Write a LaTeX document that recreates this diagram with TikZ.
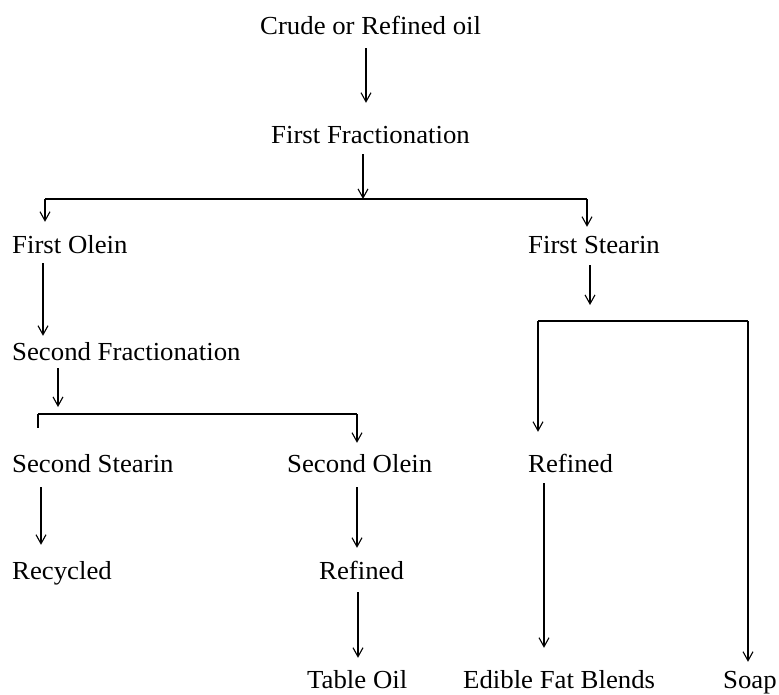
\documentclass[tikz,border=0pt]{standalone}
\usepackage{fontspec}
\setmainfont{Liberation Serif}[FakeStretch=1.03]
\usetikzlibrary{arrows.meta}
\begin{document}
\begin{tikzpicture}[x=1pt,y=-1pt,
  lbl/.style={anchor=base west,inner sep=0pt,font=\fontsize{26}{30}\selectfont,text height=18pt,text depth=6pt},
  conn/.style={line width=1.8pt},
  arr/.style={conn,-{Straight Barb[length=9pt,width=10pt,line width=1.1pt]}}]
\useasboundingbox (0,0) rectangle (779,694);
% nodes
\node[lbl] (crude) at (260,34) {Crude or Refined oil};
\node[lbl] (ff) at (271,143) {First Fractionation};
\node[lbl] (fo) at (12,253) {First Olein};
\node[lbl] (fs) at (528,253) {First Stearin};
\node[lbl] (sf) at (12,360) {Second Fractionation};
\node[lbl] (ss) at (12,472) {Second Stearin};
\node[lbl] (so) at (287,472) {Second Olein};
\node[lbl] (refR) at (528,472) {Refined};
\node[lbl] (rec) at (12,579) {Recycled};
\node[lbl] (refM) at (319,579) {Refined};
\node[lbl] (table) at (307,688) {Table Oil};
\node[lbl] (edible) at (463,688) {Edible Fat Blends};
\node[lbl] (soap) at (723,688) {Soap};
% junction coordinates
\coordinate (j1) at (363,199);
\coordinate (bl1) at (45,199);
\coordinate (br1) at (587,199);
\coordinate (bt) at (590,321);
\coordinate (bL) at (538,321);
\coordinate (bR) at (748,321);
\coordinate (j2) at (58,414);
\coordinate (bl2) at (38,414);
\coordinate (br2) at (357,414);
\coordinate (tk) at (38,428);
% connectors
\draw[arr,shorten <=8pt,shorten >=22pt] (crude.south -| 366,0) -- (ff.north -| 366,0);
\draw[arr,shorten <=5pt] (ff.south -| j1) -- (j1);
\draw[conn] (bl1) -- (br1);
\draw[arr,shorten >=13pt] (bl1) -- (fo.north -| bl1);
\draw[arr,shorten >=8pt] (br1) -- (fs.north -| br1);
\draw[arr,shorten <=6pt,shorten >=16pt] (fs.south -| bt) -- (bt);
\draw[conn,line join=miter] (bL) -- (bR);
\draw[arr,shorten >=22pt] (bL) -- (refR.north -| bL);
\draw[arr,shorten >=8pt] (bR) -- (soap.north -| bR);
\draw[arr,shorten <=4pt,shorten >=6pt] (fo.south -| 43,0) -- (sf.north -| 43,0);
\draw[arr,shorten <=2pt,shorten >=7pt] (sf.south -| j2) -- (j2);
\draw[conn] (bl2) -- (br2);
\draw[conn] (bl2) -- (tk);
\draw[arr,shorten >=11pt] (br2) -- (so.north -| br2);
\draw[arr,shorten <=9pt,shorten >=16pt] (ss.south -| 41,0) -- (rec.north -| 41,0);
\draw[arr,shorten <=9pt,shorten >=13pt] (so.south -| 357,0) -- (refM.north -| 357,0);
\draw[arr,shorten <=7pt,shorten >=12pt] (refM.south -| 358,0) -- (table.north -| 358,0);
\draw[arr,shorten <=5pt,shorten >=22pt] (refR.south -| 544,0) -- (edible.north -| 544,0);
\end{tikzpicture}
\end{document}
